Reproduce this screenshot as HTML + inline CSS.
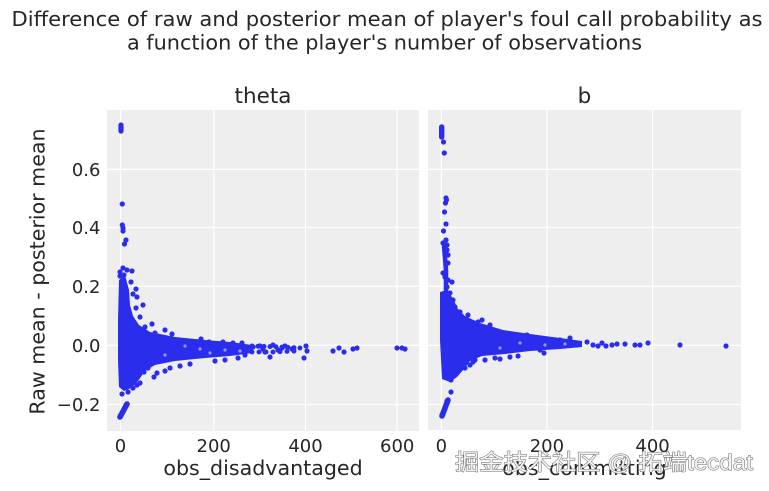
<!DOCTYPE html>
<html>
<head>
<meta charset="utf-8">
<style>
  html,body{margin:0;padding:0;background:#fff;}
  svg{display:block;}
  text{font-family:"DejaVu Sans","Liberation Sans",sans-serif;fill:#262626;}
</style>
</head>
<body>
<svg width="769" height="491" viewBox="0 0 769 491" xmlns="http://www.w3.org/2000/svg">
  <text x="11.5" y="26" font-size="20.8" textLength="751" lengthAdjust="spacingAndGlyphs">Difference of raw and posterior mean of player's foul call probability as</text>
  <text x="384.5" y="49.5" font-size="20.8" text-anchor="middle">a function of the player's number of observations</text>

  <text x="263" y="103" font-size="21.5" text-anchor="middle">theta</text>
  <text x="584.5" y="103" font-size="21.5" text-anchor="middle">b</text>

  <rect x="107" y="110" width="312" height="321" fill="#eeeeee"/>
  <rect x="428" y="110" width="313" height="320" fill="#eeeeee"/>

  <g stroke="#ffffff" stroke-width="1.3">
    <line x1="120.5" y1="110" x2="120.5" y2="431"/>
    <line x1="213.7" y1="110" x2="213.7" y2="431"/>
    <line x1="305.5" y1="110" x2="305.5" y2="431"/>
    <line x1="397.2" y1="110" x2="397.2" y2="431"/>
    <line x1="107" y1="169.3" x2="419" y2="169.3"/>
    <line x1="107" y1="227.5" x2="419" y2="227.5"/>
    <line x1="107" y1="286.3" x2="419" y2="286.3"/>
    <line x1="107" y1="345.3" x2="419" y2="345.3"/>
    <line x1="107" y1="404.5" x2="419" y2="404.5"/>
    <line x1="441.3" y1="110" x2="441.3" y2="430"/>
    <line x1="546.9" y1="110" x2="546.9" y2="430"/>
    <line x1="652.6" y1="110" x2="652.6" y2="430"/>
    <line x1="428" y1="169.3" x2="741" y2="169.3"/>
    <line x1="428" y1="227.5" x2="741" y2="227.5"/>
    <line x1="428" y1="286.3" x2="741" y2="286.3"/>
    <line x1="428" y1="345.3" x2="741" y2="345.3"/>
    <line x1="428" y1="404.5" x2="741" y2="404.5"/>
  </g>

  <g font-size="18" text-anchor="end">
    <text x="100.5" y="175.8">0.6</text>
    <text x="100.5" y="234">0.4</text>
    <text x="100.5" y="292.8">0.2</text>
    <text x="100.5" y="351.8">0.0</text>
    <text x="100.5" y="411">−0.2</text>
  </g>
  <g font-size="18" text-anchor="middle">
    <text x="120.5" y="452">0</text>
    <text x="213.7" y="452">200</text>
    <text x="305.5" y="452">400</text>
    <text x="397.2" y="452">600</text>
    <text x="441.3" y="452">0</text>
    <text x="546.9" y="452">200</text>
    <text x="652.6" y="452">400</text>
  </g>

  <text x="263" y="475" font-size="20.6" text-anchor="middle">obs_disadvantaged</text>
  <text x="584.5" y="475" font-size="20.6" text-anchor="middle">obs_committing</text>
  <text transform="translate(44.5,271.5) rotate(-90)" font-size="20.6" text-anchor="middle">Raw mean - posterior mean</text>

  <!-- LEFT SCATTER -->
  <path fill="#2a2eec" d="M119,280 L125,275 L129,290 L130,305 L133,316 L139,325 L150,332 L175,337 L205,340 L230,342 L252,345 L252,353 L230,356 L205,358 L175,361 L155,365 L145,371 L138,381 L131,388 L124,391 L119,387 L118,360 L118,320 Z"/>
  <g stroke="#2a2eec" stroke-linecap="round" fill="none">
    <line x1="121" y1="125" x2="121" y2="131" stroke-width="5.2"/>
    <line x1="127" y1="404" x2="120" y2="417" stroke-width="5.6"/>
    <polyline points="252,346 280,347 300,348" stroke-width="5" stroke-dasharray="0 6"/>
    <polyline points="252,352 275,352 295,351" stroke-width="5" stroke-dasharray="0 7"/>
  </g>
  <g fill="#2a2eec">
    <circle cx="122.3" cy="204" r="2.6"/><circle cx="122.3" cy="225" r="2.6"/>
    <circle cx="123" cy="228" r="2.6"/><circle cx="123" cy="231" r="2.6"/>
    <circle cx="126" cy="240" r="2.6"/><circle cx="124.5" cy="244" r="2.6"/>
    <circle cx="120" cy="272" r="2.6"/><circle cx="123" cy="268" r="2.6"/>
    <circle cx="127" cy="270" r="2.6"/><circle cx="132" cy="271" r="2.6"/>
    <circle cx="120" cy="276" r="2.6"/><circle cx="124" cy="275" r="2.6"/>
    <circle cx="131" cy="282" r="2.6"/><circle cx="133" cy="294" r="2.6"/>
    <circle cx="136" cy="289" r="2.6"/><circle cx="137" cy="297" r="2.6"/>
    <circle cx="136" cy="308" r="2.6"/><circle cx="143" cy="305" r="2.6"/>
    <circle cx="140" cy="317" r="2.6"/><circle cx="152" cy="324" r="2.6"/>
    <circle cx="145" cy="327" r="2.6"/><circle cx="165" cy="330" r="2.6"/>
    <circle cx="155" cy="333" r="2.6"/><circle cx="172" cy="334" r="2.6"/>
    <circle cx="157" cy="373" r="2.6"/><circle cx="154" cy="377" r="2.6"/>
    <circle cx="148" cy="368" r="2.6"/><circle cx="144" cy="372" r="2.6"/>
    <circle cx="140" cy="383" r="2.6"/><circle cx="137" cy="385" r="2.6"/>
    <circle cx="133" cy="388" r="2.6"/><circle cx="128" cy="392" r="2.6"/>
    <circle cx="122" cy="394" r="2.6"/><circle cx="126" cy="405" r="2.6"/>
    <circle cx="121" cy="415" r="2.6"/><circle cx="179" cy="343" r="2.6"/>
    <circle cx="201" cy="339" r="2.6"/><circle cx="209" cy="342" r="2.6"/>
    <circle cx="223" cy="342" r="2.6"/><circle cx="233" cy="343" r="2.6"/>
    <circle cx="242" cy="343" r="2.6"/><circle cx="253" cy="347" r="2.6"/>
    <circle cx="263" cy="349" r="2.6"/><circle cx="273" cy="345" r="2.6"/>
    <circle cx="282" cy="348" r="2.6"/><circle cx="292" cy="349" r="2.6"/>
    <circle cx="306" cy="346" r="2.6"/><circle cx="307" cy="351" r="2.6"/>
    <circle cx="304" cy="358" r="2.6"/><circle cx="270" cy="357" r="2.6"/>
    <circle cx="333" cy="351" r="2.6"/><circle cx="339" cy="348" r="2.6"/>
    <circle cx="344" cy="352" r="2.6"/><circle cx="353" cy="349" r="2.6"/>
    <circle cx="357" cy="348" r="2.6"/><circle cx="397" cy="348" r="2.6"/>
    <circle cx="402" cy="348" r="2.6"/><circle cx="405" cy="349" r="2.6"/>
    <circle cx="260" cy="346" r="2.6"/><circle cx="265" cy="352" r="2.6"/>
    <circle cx="278" cy="350" r="2.6"/><circle cx="285" cy="346" r="2.6"/>
    <circle cx="245" cy="355" r="2.6"/><circle cx="238" cy="358" r="2.6"/>
    <circle cx="225" cy="360" r="2.6"/><circle cx="215" cy="361" r="2.6"/>
    <circle cx="190" cy="364" r="2.6"/><circle cx="180" cy="366" r="2.6"/>
    <circle cx="170" cy="368" r="2.6"/><circle cx="165" cy="371" r="2.6"/>
  </g>
  <g fill="#eeeeee" opacity="0.55">
    <circle cx="200" cy="349" r="1.6"/><circle cx="225" cy="350" r="1.6"/>
    <circle cx="185" cy="346" r="1.6"/><circle cx="240" cy="351" r="1.6"/>
    <circle cx="165" cy="355" r="1.6"/><circle cx="210" cy="353" r="1.6"/>
  </g>

  <!-- RIGHT SCATTER -->
  <path fill="#2a2eec" d="M440,292 L447,290 L454,300 L457,308 L465,316 L480,323 L503,330 L530,334 L560,338 L582,341 L582,347 L560,349 L530,351 L505,354 L482,356 L470,361 L464,369 L457,377 L450,382 L442,379 L440,340 Z"/>
  <g stroke="#2a2eec" stroke-linecap="round" fill="none">
    <line x1="441.7" y1="127" x2="441.7" y2="137" stroke-width="5.4"/>
    <line x1="448" y1="400" x2="442" y2="416" stroke-width="5.6"/>
    <polyline points="444,246 446,270 446,291" stroke-width="4.5"/>
  </g>
  <g fill="#2a2eec">
    <circle cx="443.5" cy="142" r="2.6"/><circle cx="444.3" cy="153" r="2.6"/>
    <circle cx="446" cy="198" r="2.6"/><circle cx="446.5" cy="200" r="2.6"/>
    <circle cx="445.5" cy="203" r="2.6"/><circle cx="444.5" cy="212" r="2.6"/>
    <circle cx="446" cy="224" r="2.6"/><circle cx="443.5" cy="231" r="2.6"/>
    <circle cx="446" cy="240" r="2.6"/><circle cx="447" cy="245" r="2.6"/>
    <circle cx="443" cy="243" r="2.6"/><circle cx="447" cy="250" r="2.6"/>
    <circle cx="448" cy="255" r="2.6"/><circle cx="448" cy="263" r="2.6"/>
    <circle cx="443" cy="273" r="2.6"/><circle cx="445" cy="277" r="2.6"/>
    <circle cx="448" cy="280" r="2.6"/><circle cx="452" cy="282" r="2.6"/>
    <circle cx="447" cy="287" r="2.6"/><circle cx="450" cy="293" r="2.6"/>
    <circle cx="453" cy="300" r="2.6"/><circle cx="455" cy="307" r="2.6"/>
    <circle cx="460" cy="312" r="2.6"/><circle cx="468" cy="315" r="2.6"/>
    <circle cx="478" cy="322" r="2.6"/><circle cx="482" cy="320" r="2.6"/>
    <circle cx="475" cy="360" r="2.6"/><circle cx="473" cy="362" r="2.6"/>
    <circle cx="465" cy="368" r="2.6"/><circle cx="462" cy="367" r="2.6"/>
    <circle cx="453" cy="372" r="2.6"/><circle cx="455" cy="375" r="2.6"/>
    <circle cx="450" cy="378" r="2.6"/><circle cx="451" cy="380" r="2.6"/>
    <circle cx="451" cy="392" r="2.6"/><circle cx="447" cy="401" r="2.6"/>
    <circle cx="442" cy="415" r="2.6"/><circle cx="490" cy="325" r="2.6"/>
    <circle cx="507" cy="340" r="2.6"/><circle cx="520" cy="337" r="2.6"/>
    <circle cx="527" cy="335" r="2.6"/><circle cx="530" cy="348" r="2.6"/>
    <circle cx="540" cy="350" r="2.6"/><circle cx="544" cy="353" r="2.6"/>
    <circle cx="553" cy="343" r="2.6"/><circle cx="560" cy="340" r="2.6"/>
    <circle cx="570" cy="338" r="2.6"/><circle cx="577" cy="345" r="2.6"/>
    <circle cx="587" cy="342" r="2.6"/><circle cx="593" cy="345" r="2.6"/>
    <circle cx="598" cy="346" r="2.6"/><circle cx="602" cy="343" r="2.6"/>
    <circle cx="606" cy="346" r="2.6"/><circle cx="612" cy="345" r="2.6"/>
    <circle cx="617" cy="344" r="2.6"/><circle cx="625" cy="344" r="2.6"/>
    <circle cx="635" cy="345" r="2.6"/><circle cx="640" cy="345" r="2.6"/>
    <circle cx="648" cy="343" r="2.6"/><circle cx="680" cy="345" r="2.6"/>
    <circle cx="726" cy="346" r="2.6"/><circle cx="495" cy="358" r="2.6"/>
    <circle cx="485" cy="360" r="2.6"/><circle cx="500" cy="359" r="2.6"/>
    <circle cx="510" cy="357" r="2.6"/><circle cx="518" cy="356" r="2.6"/>
    <circle cx="470" cy="365" r="2.6"/>
  </g>
  <g fill="#eeeeee" opacity="0.55">
    <circle cx="520" cy="343" r="1.6"/><circle cx="545" cy="345" r="1.6"/>
    <circle cx="500" cy="348" r="1.6"/><circle cx="565" cy="344" r="1.6"/>
  </g>

  <text x="455" y="470" font-size="22" textLength="298" lengthAdjust="spacingAndGlyphs"
        style="font-family:'Liberation Sans','Noto Sans CJK SC',sans-serif;fill:#f4f4f4;stroke:#6a6a6a;stroke-width:1;paint-order:stroke;">掘金技术社区 @ 拓端tecdat</text>
</svg>
</body>
</html>
